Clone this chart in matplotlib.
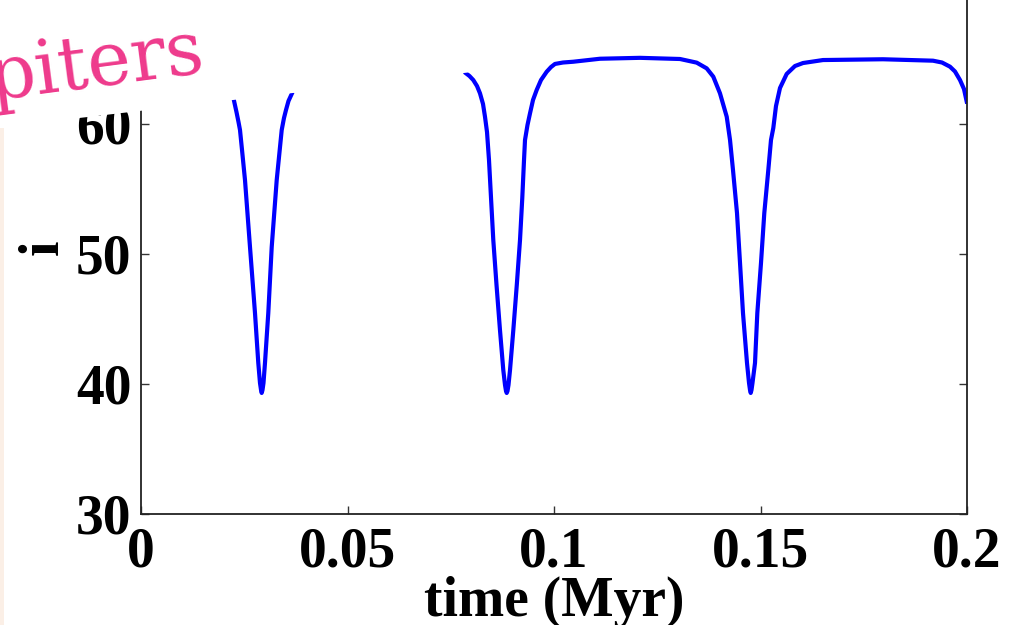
import numpy as np
import matplotlib
matplotlib.use('Agg')
from matplotlib import pyplot as plt
from matplotlib.patches import Polygon, Rectangle

# inclination i (deg) vs time (Myr)
# only the parts not hidden by the title box are kept
t_dip1 = [0.02252, 0.02312, 0.02361, 0.02397, 0.02446, 0.02518, 0.02639, 0.02760,
          0.02840, 0.02881, 0.02906, 0.02922, 0.02942, 0.02966, 0.03002, 0.03082,
          0.03165, 0.03286, 0.03407, 0.03462, 0.03511, 0.03571, 0.03649]
i_dip1 = [61.79, 60.92, 60.15, 59.54, 58.00, 55.69, 50.54, 45.46,
          41.62, 40.08, 39.54, 39.31, 39.54, 40.08, 41.62, 45.46,
          50.54, 55.69, 59.54, 60.46, 61.08, 61.77, 62.31]

t_main = [0.07869, 0.07954, 0.08046, 0.08136, 0.08208, 0.08281, 0.08329, 0.08378,
          0.08426, 0.08475, 0.08530, 0.08608, 0.08692, 0.08772, 0.08814, 0.08838,
          0.08855, 0.08874, 0.08898, 0.08935, 0.09015, 0.09099, 0.09177, 0.09232,
          0.09274, 0.09298, 0.09358, 0.09419, 0.09492, 0.09581, 0.09685, 0.09823,
          0.09927, 0.10024, 0.10218, 0.10467, 0.11114, 0.12082, 0.13051, 0.13455,
          0.13697, 0.13857, 0.14019, 0.14182, 0.14262, 0.14334, 0.14431, 0.14504,
          0.14576, 0.14673, 0.14722, 0.14746, 0.14763, 0.14782, 0.14806, 0.14867,
          0.14923, 0.15012, 0.15092, 0.15189, 0.15254, 0.15310, 0.15375, 0.15472,
          0.15634, 0.15835, 0.16029, 0.16513, 0.17966, 0.19177, 0.19395, 0.19588,
          0.19709, 0.19831, 0.19927, 0.19993]
i_main = [63.90, 63.69, 63.38, 62.92, 62.36, 61.54, 60.56, 59.38,
          57.23, 54.31, 51.08, 47.62, 44.15, 41.08, 39.92, 39.46,
          39.31, 39.46, 39.92, 41.08, 44.15, 47.62, 51.08, 54.31,
          57.23, 58.77, 59.92, 60.82, 61.85, 62.62, 63.38, 64.02,
          64.38, 64.62, 64.73, 64.79, 65.02, 65.09, 65.00, 64.72,
          64.28, 63.64, 62.36, 60.56, 58.77, 56.46, 53.15, 49.31,
          45.46, 41.62, 40.08, 39.54, 39.31, 39.54, 40.08, 41.62,
          45.46, 49.31, 53.15, 56.46, 58.77, 59.69, 61.38, 62.77,
          63.85, 64.46, 64.69, 64.92, 64.98, 64.87, 64.73, 64.41,
          64.04, 63.38, 62.69, 61.72]

xticks = [0, 0.05, 0.1, 0.15, 0.2]
xticklabels = ['0', '0.05', '0.1', '0.15', '0.2']
yticks = [30, 40, 50, 60, 70]

W, H = 1025, 625
fig = plt.figure(figsize=(W / 100, H / 100), dpi=100)
# y range 30..71 at 13 px per degree, top edge sits above the picture
ax = fig.add_axes([141 / W, 1 - 514 / H, 826 / W, 533 / H])

ax.plot(t_dip1, i_dip1, color='#0000ff', lw=3.0, solid_joinstyle='round')
ax.plot(t_main, i_main, color='#0000ff', lw=3.0, solid_joinstyle='round')

ax.set_xlim(0, 0.2)
ax.set_ylim(30, 71)
ax.set_xticks(xticks)
ax.set_xticklabels(xticklabels)
ax.set_yticks(yticks)

tick_font = dict(family='Liberation Serif', weight='bold', size=40)
for lab in ax.get_xticklabels() + ax.get_yticklabels():
    lab.set_fontfamily('Liberation Serif')
    lab.set_fontweight('bold')
    lab.set_fontsize(40)
ax.tick_params(direction='in', length=6, width=1.0, top=True, right=True, color='#333333')
ax.tick_params(axis='x', pad=9)
ax.tick_params(axis='y', pad=7)
for s in ax.spines.values():
    s.set_linewidth(1.3)
    s.set_color('#222222')

ax.set_xlabel('time (Myr)', fontdict=tick_font, labelpad=-2)
ax.set_ylabel('i', fontdict=tick_font, labelpad=4)

# white title box of the slide, tilted, covering the top left
def px(x, y):
    return (x / W, 1 - y / H)

slope = 0.117
box = Polygon([px(-5, 100 + 238 * slope), px(540, 100 - 307 * slope),
               px(540, -10), px(-5, -10)],
              closed=True, transform=fig.transFigure, facecolor='white',
              edgecolor='none', zorder=5)
fig.patches.append(box)

# thin slide background strip on the left edge
strip = Rectangle(px(0, 625), 4 / W, (625 - 128) / H, transform=fig.transFigure,
                  facecolor='#fbefe6', edgecolor='none', zorder=6)
fig.patches.append(strip)

fig.text(-8 / W, 1 - 100 / H, 'piters', color='#ee3a8c', family='DejaVu Serif',
         fontsize=53, rotation=7.5, rotation_mode='anchor', ha='left',
         va='baseline', zorder=7)

plt.savefig('out.png', dpi=100)
